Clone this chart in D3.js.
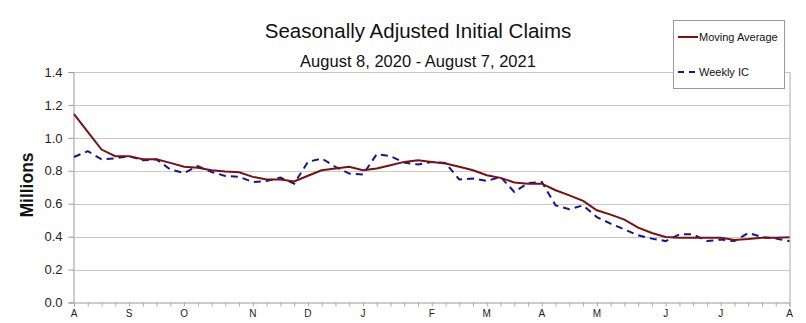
<!DOCTYPE html>
<html><head><meta charset="utf-8">
<script src="https://cdn.jsdelivr.net/npm/d3@7"></script>
<style>body{margin:0;background:#fff}svg{display:block;font-family:"Liberation Sans",Arial,sans-serif}</style>
</head><body><svg id="c" width="806" height="323"></svg>
<script>
const weeks = d3.range(53); // weekly points Aug 8 2020 .. Aug 7 2021
const weeklyIC = [0.884,0.919,0.870,0.875,0.889,0.864,0.869,0.808,0.787,0.828,0.793,0.769,0.763,0.732,0.738,0.759,0.722,0.854,0.875,0.824,0.783,0.777,0.901,0.889,0.850,0.838,0.854,0.848,0.747,0.753,0.738,0.763,0.671,0.726,0.732,0.590,0.566,0.590,0.519,0.479,0.444,0.408,0.388,0.373,0.414,0.414,0.373,0.382,0.373,0.422,0.398,0.388,0.373];
const movingAvg = [1.144,1.036,0.929,0.889,0.889,0.870,0.870,0.848,0.824,0.818,0.803,0.795,0.791,0.763,0.747,0.747,0.735,0.770,0.803,0.814,0.824,0.803,0.814,0.834,0.854,0.864,0.854,0.844,0.824,0.803,0.773,0.757,0.729,0.722,0.722,0.682,0.651,0.617,0.560,0.534,0.503,0.455,0.422,0.398,0.394,0.394,0.394,0.394,0.380,0.385,0.394,0.394,0.396];
const monthTickWeeks = [0,4,8,13,17,21,26,30,34,38,43,47,52];
const monthTickLabels = ["A","S","O","N","D","J","F","M","A","M","J","J","A"];
const yTicks = [0,0.2,0.4,0.6,0.8,1.0,1.2,1.4];

const svg = d3.select("#c");
const L=73.5, R=789.5, T=72, B=302.5;
const x = d3.scaleLinear().domain([0,52]).range([L+0.5,R]);
const y = d3.scaleLinear().domain([0,1.4]).range([B,T]);

// gridlines
svg.append("g").selectAll("line").data(yTicks.filter(v=>v>0)).join("line")
  .attr("x1",L).attr("x2",R).attr("y1",d=>Math.round(y(d))+0.5).attr("y2",d=>Math.round(y(d))+0.5)
  .attr("stroke","#c8c8c8").attr("stroke-width",1);

// y axis
const ya = svg.append("g").attr("transform",`translate(${L},0)`)
  .call(d3.axisLeft(y).tickValues(yTicks).tickFormat(d3.format(".1f")).tickSize(5).tickPadding(6));
ya.select(".domain").attr("stroke","#999");
ya.selectAll(".tick line").attr("stroke","#999");
ya.selectAll("text").attr("font-size",13).attr("fill","#222").attr("font-family","Liberation Sans, Arial");

// right border
svg.append("line").attr("x1",R+0.5).attr("x2",R+0.5).attr("y1",T).attr("y2",B).attr("stroke","#aaa");

// x axis weekly ticks
const xa = svg.append("g").attr("transform",`translate(0,${B})`)
  .call(d3.axisBottom(x).tickValues(weeks).tickSize(4).tickFormat(""));
xa.select(".domain").attr("stroke","#999");
xa.selectAll(".tick line").attr("stroke","#aaa");
svg.append("g").selectAll("text").data(monthTickWeeks).join("text")
  .attr("x",d=>x(d)).attr("y",B+14).attr("text-anchor","middle")
  .attr("font-size",10).attr("fill","#222").text((d,i)=>monthTickLabels[i]);

// lines
const line = d3.line().x((d,i)=>x(i)).y(d=>y(d));
svg.append("path").datum(weeklyIC).attr("d",line).attr("fill","none")
  .attr("stroke","#14149a").attr("stroke-width",2).attr("stroke-dasharray","7,5");
svg.append("path").datum(movingAvg).attr("d",line).attr("fill","none")
  .attr("stroke","#7a1010").attr("stroke-width",2);

// titles
svg.append("text").attr("x",418).attr("y",38).attr("text-anchor","middle")
  .attr("font-size",20.5).attr("fill","#111").text("Seasonally Adjusted Initial Claims");
svg.append("text").attr("x",418).attr("y",67).attr("text-anchor","middle")
  .attr("font-size",16.5).attr("fill","#111").text("August 8, 2020 - August 7, 2021");
svg.append("text").attr("transform","translate(33,185) rotate(-90)").attr("text-anchor","middle")
  .attr("font-size",17.5).attr("font-weight","bold").attr("fill","#111").text("Millions");

// legend
const lg = svg.append("g");
lg.append("rect").attr("x",673.5).attr("y",20.5).attr("width",111).attr("height",68)
  .attr("fill","#fff").attr("stroke","#999");
lg.append("line").attr("x1",678).attr("x2",698).attr("y1",37).attr("y2",37).attr("stroke","#7a1010").attr("stroke-width",2);
lg.append("text").attr("x",699).attr("y",41).attr("font-size",11).attr("fill","#111").text("Moving Average");
lg.append("line").attr("x1",678).attr("x2",698).attr("y1",72).attr("y2",72).attr("stroke","#14149a").attr("stroke-width",2).attr("stroke-dasharray","6,5");
lg.append("text").attr("x",699).attr("y",76).attr("font-size",11).attr("fill","#111").text("Weekly IC");
</script></body></html>
